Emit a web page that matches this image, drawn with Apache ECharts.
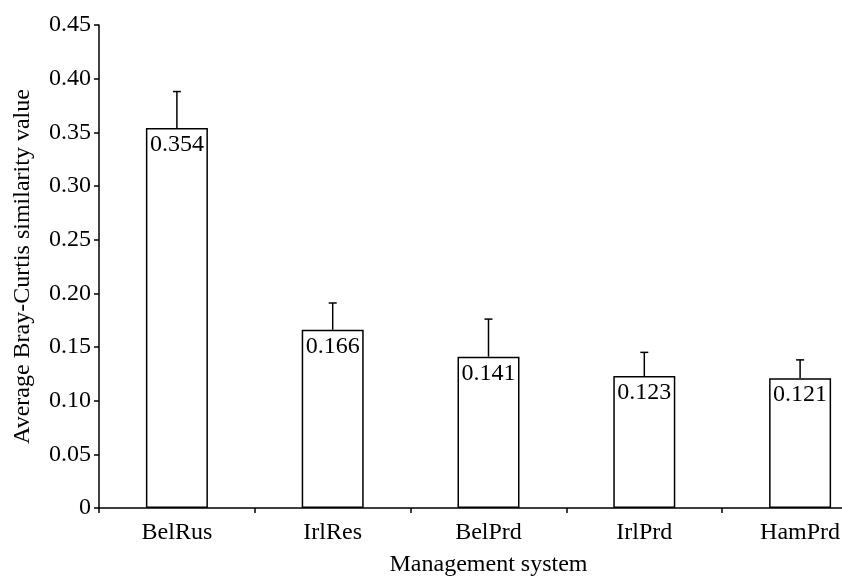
<!DOCTYPE html>
<html>
<head>
<meta charset="utf-8">
<script src="https://cdn.jsdelivr.net/npm/echarts@6/dist/echarts.min.js"></script>
<style>html,body{margin:0;padding:0;background:#fff;}#c{width:842px;height:576px;}</style>
</head>
<body>
<div id="c"></div>
<script>
var categories = ['BelRus', 'IrlRes', 'BelPrd', 'IrlPrd', 'HamPrd'];
var means = [0.354, 0.166, 0.141, 0.123, 0.121];
var upperErrors = [0.388, 0.191, 0.176, 0.145, 0.138];
var yTicks = [0, 0.05, 0.10, 0.15, 0.20, 0.25, 0.30, 0.35, 0.40, 0.45];

var FONT = '"Liberation Serif", "Times New Roman", serif';
var chart = echarts.init(document.getElementById('c'), null, {renderer: 'canvas'});

var errData = categories.map(function (c, i) { return [i, means[i], upperErrors[i]]; });

chart.setOption({
  animation: false,
  backgroundColor: '#fff',
  grid: {left: 99, top: 25, height: 483, width: 779, containLabel: false, outerBoundsMode: 'none'},
  xAxis: {
    type: 'category',
    data: categories,
    name: 'Management system',
    nameLocation: 'middle',
    nameGap: 45,
    nameTextStyle: {fontFamily: FONT, fontSize: 24, color: '#000'},
    axisLine: {lineStyle: {color: '#000', width: 1.5}},
    axisTick: {show: true, inside: false, length: 5, lineStyle: {color: '#000', width: 1.5}},
    axisLabel: {fontFamily: FONT, fontSize: 24, color: '#000', margin: 13},
    splitLine: {show: false}
  },
  yAxis: {
    type: 'value',
    min: 0,
    max: 0.45,
    interval: 0.05,
    name: 'Average Bray-Curtis similarity value',
    nameLocation: 'middle',
    nameGap: 64,
    nameTextStyle: {fontFamily: FONT, fontSize: 24, color: '#000'},
    axisLine: {show: true, lineStyle: {color: '#000', width: 1.5}},
    axisTick: {show: true, inside: false, length: 5, lineStyle: {color: '#000', width: 1.5}},
    axisLabel: {
      fontFamily: FONT, fontSize: 24, color: '#000', margin: 8,
      formatter: function (v) {
        for (var i = 0; i < yTicks.length; i++) {
          if (Math.abs(yTicks[i] - v) < 1e-9) return yTicks[i] === 0 ? '0' : yTicks[i].toFixed(2);
        }
        return '';
      }
    },
    splitLine: {show: false}
  },
  series: [
    {
      type: 'bar',
      data: means,
      barWidth: 62,
      itemStyle: {color: '#fff', borderColor: '#000', borderWidth: 1.5},
      label: {
        show: true,
        position: 'insideTop',
        distance: 5,
        fontFamily: FONT,
        fontSize: 24,
        color: '#000',
        formatter: function (p) { return means[p.dataIndex].toFixed(3); }
      },
      z: 2
    },
    {
      type: 'custom',
      data: errData,
      z: 3,
      renderItem: function (params, api) {
        var x = api.value(0);
        var base = api.coord([x, api.value(1)]);
        var top = api.coord([x, api.value(2)]);
        var half = 4;
        var style = {stroke: '#000', lineWidth: 1.5, fill: null};
        return {
          type: 'group',
          children: [
            {type: 'line', shape: {x1: base[0], y1: base[1], x2: top[0], y2: top[1]}, style: style},
            {type: 'line', shape: {x1: top[0] - half, y1: top[1], x2: top[0] + half, y2: top[1]}, style: style}
          ]
        };
      }
    }
  ]
});
</script>
</body>
</html>
